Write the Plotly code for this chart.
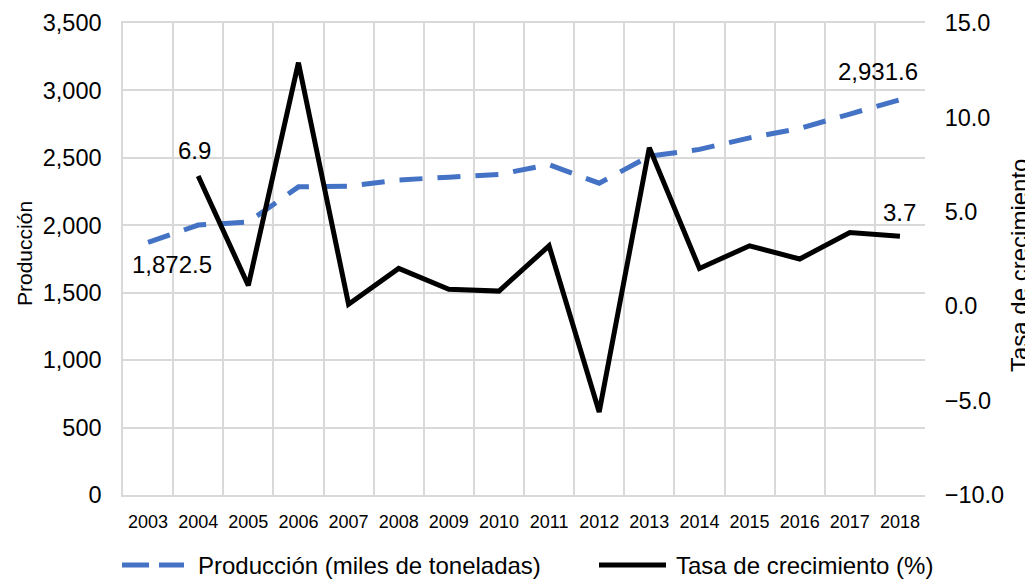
import plotly.graph_objects as go

years = [str(y) for y in range(2003, 2019)]
produccion = [1872.5, 2001.7, 2024, 2285, 2290, 2336, 2357, 2377, 2450, 2312, 2512, 2563, 2648, 2718, 2825, 2931.6]
tasa = [None, 6.9, 1.1, 12.9, 0.1, 2.0, 0.9, 0.8, 3.2, -5.6, 8.4, 2.0, 3.2, 2.5, 3.9, 3.7]

left_ticks = [0, 500, 1000, 1500, 2000, 2500, 3000, 3500]
right_ticks = [-10, -5, 0, 5, 10, 15]

names = ["Producción (miles de toneladas)", "Tasa de crecimiento (%)"]
colors = ["#4472C4", "#000000"]

FONT = "Liberation Sans, Arial, sans-serif"
GRID = "#d9d9d9"
OFF = 8  # page body margin offset of the plot div
W, H = 1033 - OFF, 579 - OFF
# target plot area in the screenshot: x 123..925, y 23..495
L, T = 123 - OFF, 23 - OFF
R = W - (925 - OFF)
B = H - (495 - OFF)
PW, PH = W - L - R, H - T - B


def px(xs):
    """screenshot x pixel -> paper coordinate"""
    return (xs - OFF - L) / PW


def py(ys):
    """screenshot y pixel -> paper coordinate"""
    return (H - B - (ys - OFF)) / PH


fig = go.Figure()
fig.add_trace(go.Scatter(
    x=years, y=produccion, name=names[0],
    mode="lines", line=dict(color=colors[0], width=5, dash="23px,15px"),
    yaxis="y"))
fig.add_trace(go.Scatter(
    x=years, y=tasa, name=names[1],
    mode="lines", line=dict(color=colors[1], width=5),
    yaxis="y2", connectgaps=False))

# data labels (category index used for x on category axis)
annos = [
    dict(x=0, y=produccion[0], yref="y", text="1,872.5", xshift=24, yshift=-22),
    dict(x=len(years) - 1, y=produccion[-1], yref="y", text="2,931.6", xshift=-22, yshift=28),
    dict(x=1, y=tasa[1], yref="y2", text="6.9", xshift=-4, yshift=25),
    dict(x=len(years) - 1, y=tasa[-1], yref="y2", text="3.7", xshift=0, yshift=24),
]
for a in annos:
    a.update(xref="x", showarrow=False, xanchor="center", yanchor="middle",
             font=dict(family=FONT, size=24, color="#000"))
    fig.add_annotation(**a)

# axis titles
fig.add_annotation(x=px(24), y=py(254), xref="paper", yref="paper", text="Producción",
                   textangle=-90, showarrow=False, xanchor="center", yanchor="middle",
                   font=dict(family=FONT, size=21, color="#000"))
fig.add_annotation(x=px(1019), y=py(265), xref="paper", yref="paper", text="Tasa de crecimiento",
                   textangle=-90, showarrow=False, xanchor="center", yanchor="middle",
                   font=dict(family=FONT, size=24, color="#000"))

# legend (manual, bottom)
leg_y = py(565)
fig.add_shape(type="line", xref="paper", yref="paper", x0=px(122), x1=px(184), y0=leg_y, y1=leg_y,
              line=dict(color=colors[0], width=5, dash="27px,10px"))
fig.add_annotation(x=px(196), y=leg_y, xref="paper", yref="paper", text=names[0],
                   xanchor="left", yanchor="middle",
                   showarrow=False, font=dict(family=FONT, size=24, color="#000"))
fig.add_shape(type="line", xref="paper", yref="paper", x0=px(599), x1=px(666), y0=leg_y, y1=leg_y,
              line=dict(color=colors[1], width=5))
fig.add_annotation(x=px(674), y=leg_y, xref="paper", yref="paper", text=names[1],
                   xanchor="left", yanchor="middle",
                   showarrow=False, font=dict(family=FONT, size=24, color="#000"))

fig.update_layout(
    width=W, height=H,
    margin=dict(l=L, r=R, t=T, b=B, autoexpand=False),
    paper_bgcolor="white", plot_bgcolor="white",
    font=dict(family=FONT, color="#000"),
    showlegend=False,
    xaxis=dict(type="category", tickson="boundaries", showgrid=True, gridcolor=GRID,
               gridwidth=1.5, showline=True, linecolor=GRID, linewidth=1.5, mirror=True,
               ticks="", ticklabelstandoff=10, tickangle=0,
               tickfont=dict(family=FONT, size=18, color="#000"),
               range=[-0.5, 15.5], automargin=False),
    yaxis=dict(range=[0, 3500], tickvals=left_ticks, tickformat=",", showgrid=True,
               gridcolor=GRID, gridwidth=1.5, zeroline=False, showline=True,
               linecolor=GRID, linewidth=1.5,
               ticks="outside", ticklen=15, tickcolor="rgba(0,0,0,0)",
               tickfont=dict(family=FONT, size=23.5, color="#000"), automargin=False),
    yaxis2=dict(range=[-10, 15], tickvals=right_ticks, tickformat=".1f", overlaying="y",
                side="right", showgrid=False, zeroline=False, showline=False,
                ticks="outside", ticklen=14, tickcolor="rgba(0,0,0,0)",
                tickfont=dict(family=FONT, size=23.5, color="#000"), automargin=False),
)

fig.write_html("out.html")
